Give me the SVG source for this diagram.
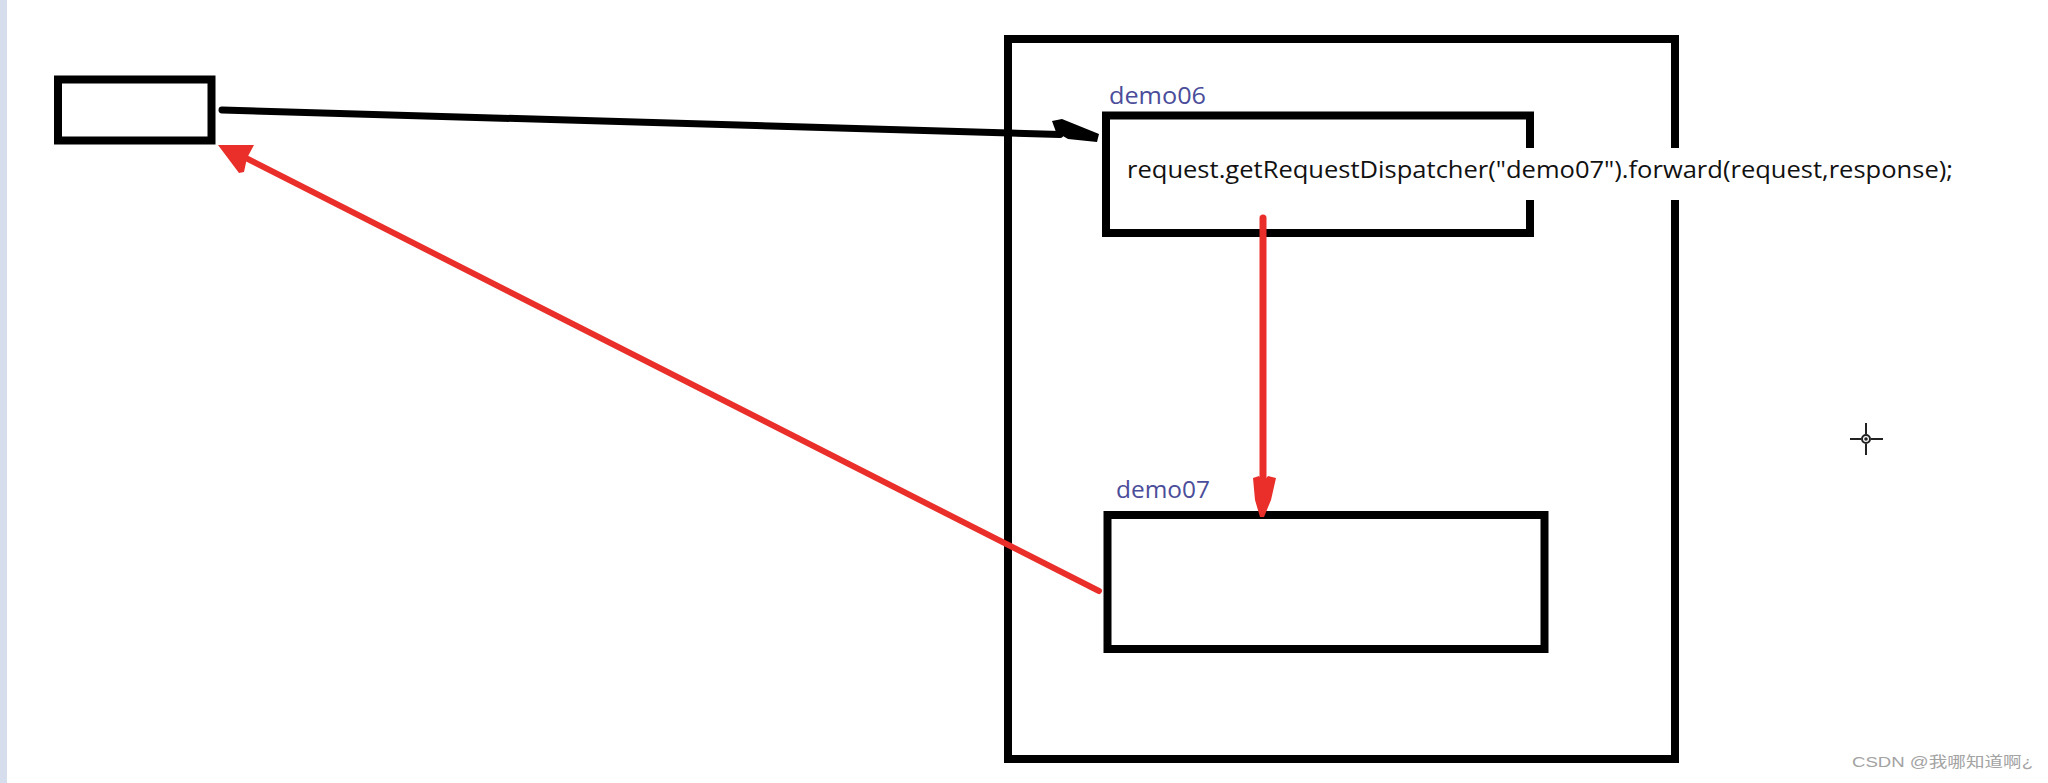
<svg xmlns="http://www.w3.org/2000/svg" width="2048" height="783" viewBox="0 0 2048 783">
  <style>
    .box { fill: none; stroke: #000; stroke-width: 8; }
    .lbl { font-family: "Open Sans", "Noto Sans", sans-serif; font-size: 24px; fill: #4b4d9a; }
    .code { font-family: "Open Sans", "Noto Sans", sans-serif; font-size: 24px; fill: #111; }
    .red { stroke: #ea2f2a; fill: none; stroke-linecap: round; }
    .redfill { fill: #ea2f2a; }
  </style>
  <rect x="0" y="0" width="2048" height="783" fill="#fff"/>
  <rect x="0" y="0" width="7" height="783" fill="#d6ddec"/>

  <g id="client">
    <rect class="box" x="58" y="79.5" width="153.5" height="61" stroke-width="7"/>
  </g>

  <g id="server">
    <rect class="box" x="1008" y="39" width="667" height="720"/>
  </g>

  <g id="demo06">
    <rect class="box" x="1106" y="115.5" width="424" height="117.5"/>
    <text class="lbl" x="1109" y="104" textLength="97" lengthAdjust="spacingAndGlyphs">demo06</text>
  </g>

  <g id="demo07">
    <rect class="box" x="1107.5" y="515" width="437" height="134"/>
    <text class="lbl" x="1116" y="498" textLength="94" lengthAdjust="spacingAndGlyphs">demo07</text>
  </g>

  <g id="connectors">
    <path d="M222,110 L1060,134.5" stroke="#000" stroke-width="7" fill="none" stroke-linecap="round"/>
    <polygon points="1052,121 1062,119 1099,134 1097,142 1068,139 1056,132" fill="#000"/>
    <path class="red" d="M1263,218 L1263,490" stroke-width="7"/>
    <polygon class="redfill" points="1253,478 1259,476 1263,482 1268,476 1276,478 1271,500 1264,517 1260,517 1255,500"/>
    <path class="red" d="M1099,591 L236,153" stroke-width="6"/>
    <polygon class="redfill" points="218,145 254,145 247,158 244,172 239,173"/>
  </g>

  <g id="code-line">
    <rect x="1116" y="148" width="845" height="52" fill="#fff"/>
    <text class="code" x="1127" y="178" textLength="826" lengthAdjust="spacingAndGlyphs">request.getRequestDispatcher("demo07").forward(request,response);</text>
  </g>

  <g id="cursor" stroke="#222" stroke-width="2" fill="none">
    <line x1="1866" y1="423" x2="1866" y2="434"/>
    <line x1="1866" y1="444" x2="1866" y2="455"/>
    <line x1="1850" y1="439" x2="1861" y2="439"/>
    <line x1="1871" y1="439" x2="1883" y2="439"/>
    <circle cx="1866" cy="439" r="4"/>
    <circle cx="1866" cy="439" r="0.8" fill="#222"/>
  </g>

  <text x="1852" y="767" textLength="181" lengthAdjust="spacingAndGlyphs" font-family="'Liberation Sans', 'Noto Sans CJK SC', sans-serif" font-size="15" fill="#a3a3a3">CSDN @我哪知道啊¿</text>
</svg>
